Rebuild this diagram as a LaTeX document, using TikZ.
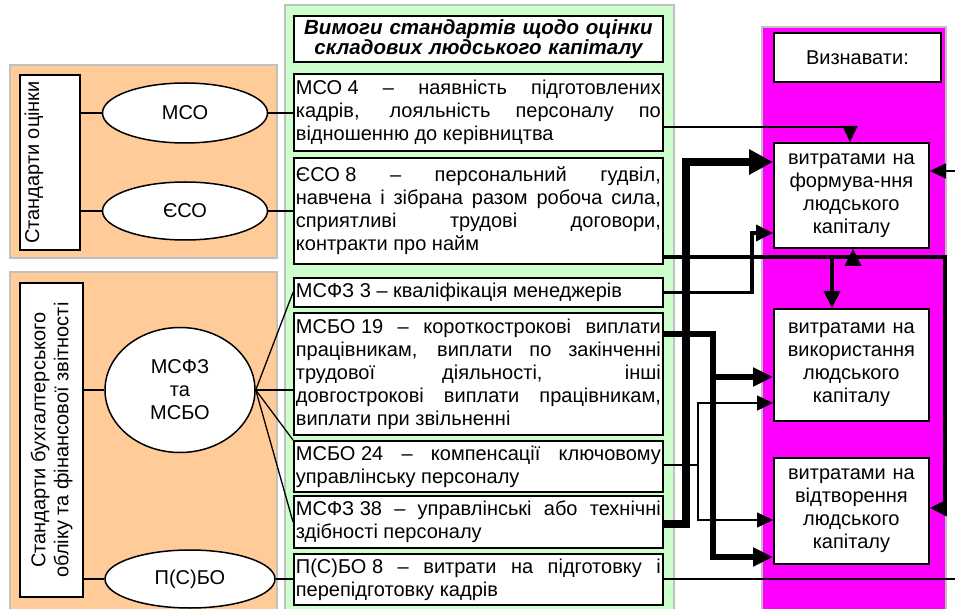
\documentclass[tikz,border=0pt]{standalone}
\usepackage{fontspec}
\setmainfont{Liberation Sans}
\usepackage{xcolor}
\usetikzlibrary{shapes.geometric,arrows.meta}
\definecolor{mpeach}{RGB}{255,204,153}
\definecolor{mmint}{RGB}{204,255,204}
\definecolor{mmagenta}{RGB}{255,0,255}
\definecolor{mgrey}{RGB}{192,192,192}

\begin{document}
\begin{tikzpicture}[x=1pt,y=-1pt,font=\fontsize{20}{23}\selectfont]
  \tikzset{panel/.style={draw=mgrey,line width=2.5pt,fill=#1},
    side box/.style={draw,line width=1.8pt,fill=white,rotate=90,align=center,inner sep=0pt},
    std ellipse/.style={ellipse,draw,line width=1.5pt,fill=white,inner sep=0pt,align=center},
    req box/.style={draw,line width=1.8pt,fill=white,anchor=north west,inner xsep=2pt,inner ysep=2pt,text width=365pt,align=justify,minimum height=#1},
    cost box/.style={draw,line width=1.8pt,fill=white,anchor=north west,inner xsep=2pt,text width=151pt,align=center,minimum height=#1},
    thin line/.style={line width=1.3pt},
    thin link/.style={thin line,-{Triangle[length=16pt,width=15pt]}},
    mid link/.style={line width=3.5pt,-{Triangle[length=17pt,width=16pt]}},
    thick link/.style={line width=6pt,-{Triangle[length=20pt,width=18pt]}},
    heavy link/.style={line width=8pt,-{Triangle[length=24pt,width=24pt]}}}

  \useasboundingbox (0,0) rectangle (955,609);
  \clip (0,0) rectangle (955,609);

  % backgrounds
  \path[panel=mpeach] (10,65) rectangle (277,258);
  \path[panel=mpeach] (10,272) rectangle (277,620);
  \path[panel=mmint] (285,5) rectangle (674,620);
  \path[panel=mmagenta] (762,27) rectangle (946,620);

  % standards
  \node[side box,minimum width=175pt,minimum height=60pt,text depth=36pt] (so) at (50,162.5) {Стандарти оцінки};
  \node[side box,minimum width=314pt,minimum height=63pt] (sb) at (51.5,440) {Стандарти бухгалтерського\\обліку та фінансової звітності};
  \node[std ellipse,minimum width=165pt,minimum height=60pt] (mso) at (185,113) {МСО};
  \node[std ellipse,minimum width=165pt,minimum height=58pt] (eso) at (185,211) {ЄСО};
  \node[std ellipse,minimum width=150pt,minimum height=125pt] (msfz) at (180,390) {МСФЗ\\та\\МСБО};
  \node[std ellipse,minimum width=170pt,minimum height=58pt] (psbo) at (190,579) {П(С)БО};

  % requirements
  \node[req box=46pt,align=center,font=\fontsize{20.5}{19}\selectfont\bfseries\itshape] (title) at (293,15) {Вимоги стандартів щодо оцінки\\складових людського капіталу};
  \node[req box=77pt] (r1) at (293,73) {\mbox{МСО 4} – наявність підготовлених\linebreak кадрів, лояльність персоналу по\linebreak відношенню до керівництва};
  \node[req box=106pt] (r2) at (293,157) {\mbox{ЄСО 8} – персональний гудвіл,\linebreak навчена і зібрана разом робоча сила,\linebreak сприятливі трудові договори,\linebreak контракти про найм};
  \node[req box=29pt] (r3) at (293,277) {\mbox{МСФЗ 3} – кваліфікація менеджерів};
  \node[req box=122pt] (r4) at (293,312) {\mbox{МСБО 19} – короткострокові виплати\linebreak працівникам, виплати по закінченні\linebreak трудової діяльності, інші\linebreak довгострокові виплати працівникам,\linebreak виплати при звільненні};
  \node[req box=51pt] (r5) at (293,440) {\mbox{МСБО 24} – компенсації ключовому\linebreak управлінську персоналу};
  \node[req box=52pt] (r6) at (293,495) {\mbox{МСФЗ 38} – управлінські або технічні\linebreak здібності персоналу};
  \node[req box=51pt] (r7) at (293,553) {\mbox{П(С)БО 8} – витрати на підготовку і\linebreak перепідготовку кадрів};

  % costs
  \node[cost box=49pt,text width=163pt] (viz) at (773,32) {Визнавати:};
  \node[cost box=105pt] (c1) at (773,142) {витратами на\\формува-ння\\людського\\капіталу};
  \node[cost box=112pt] (c2) at (773,308) {витратами на\\використання\\людського\\капіталу};
  \node[cost box=106pt] (c3) at (773,457) {витратами на\\відтворення\\людського\\капіталу};

  % left links
  \draw[thin line] (so.south |- mso) -- (mso.west);
  \draw[thin line] (so.south |- eso) -- (eso.west);
  \draw[thin line] (sb.south |- msfz) -- (msfz.west);
  \draw[thin line] (sb.south |- psbo) -- (psbo.west);
  \draw[thin line] (mso.east) -- (r1.west |- mso);
  \draw[thin line] (eso.east) -- (r2.west |- eso);
  \draw[thin line] (psbo.east) -- (r7.west |- psbo);
  \draw[thin line] (msfz.east) -- (r3.west);
  \draw[thin line] (msfz.east) -- (r4.west |- msfz.east);
  \draw[thin line] (msfz.east) -- (r5.north west);
  \draw[thin line] (msfz.east) -- (r6.west);

  % right links
  \coordinate (k1) at (850,127);
  \coordinate (v1) at (686,524);
  \coordinate (v2) at (686,162);
  \coordinate (m1) at (752,233);
  \coordinate (e1) at (955,171);
  \coordinate (e2) at (955,579);
  \coordinate (e3) at (945,257);
  \coordinate (e4) at (945,508);
  \coordinate (b1) at (853,257);
  \coordinate (b2) at (832,257);
  \coordinate (t1) at (713,334);
  \coordinate (t2) at (713,557);
  \coordinate (t3) at (713,377);
  \coordinate (n1) at (698,465);
  \coordinate (n2) at (698,403);
  \coordinate (n3) at (698,520);

  \draw[thin link] (r1.east |- k1) -| (c1.north -| k1);
  \draw[heavy link] (r6.east |- v1) -- (v1) |- (c1.west |- v2);
  \draw[mid link] (r3.east) -| (m1) -- (c1.west |- m1);
  \draw[mid link] (r2.east |- e3) -| (e4) -- (c3.east |- e4);
  \draw[mid link] (b1) -- (c1.south -| b1);
  \draw[mid link] (b2) -- (c2.north -| b2);
  \draw[thin link] (e1) -- (c1.east |- e1);
  \draw[thin line] (r7.east |- e2) -- (e2);
  \draw[thick link] (r4.east |- t1) -- (t1) |- (c3.west |- t2);
  \draw[thick link] (t3) -- (c2.west |- t3);
  \draw[thin line] (r5.east |- n1) -- (n1);
  \draw[thin link] (n1) |- (c2.west |- n2);
  \draw[thin link] (n1) |- (c3.west |- n3);
\end{tikzpicture}
\end{document}
